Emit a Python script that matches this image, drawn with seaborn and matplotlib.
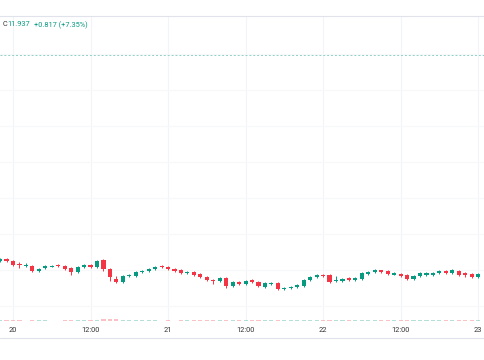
import pandas as pd
import numpy as np
import matplotlib
matplotlib.use("Agg")
import matplotlib.pyplot as plt
import matplotlib.dates as mdates
import seaborn as sns

# hourly candles, 19th 22:00 -> 23rd 00:00
start = "2024-03-19 22:00"
n_candles = 75

opens = [11.250, 11.257, 11.250, 11.240, 11.233, 11.233, 11.217, 11.227, 11.230, 11.237,
         11.233, 11.227, 11.213, 11.230, 11.237, 11.230, 11.253, 11.223, 11.190, 11.180,
         11.200, 11.200, 11.213, 11.217, 11.223, 11.233, 11.230, 11.223, 11.220, 11.210,
         11.213, 11.207, 11.197, 11.185, 11.183, 11.193, 11.167, 11.180, 11.173, 11.187,
         11.180, 11.163, 11.173, 11.177, 11.157, 11.160, 11.163, 11.167, 11.187, 11.197,
         11.203, 11.203, 11.182, 11.183, 11.193, 11.187, 11.190, 11.208, 11.213, 11.217,
         11.217, 11.205, 11.207, 11.203, 11.190, 11.200, 11.203, 11.203, 11.210, 11.217,
         11.210, 11.217, 11.208, 11.207, 11.197]
closes = [11.257, 11.250, 11.237, 11.237, 11.237, 11.217, 11.223, 11.233, 11.233, 11.233,
          11.223, 11.213, 11.230, 11.237, 11.230, 11.250, 11.223, 11.197, 11.180, 11.200,
          11.203, 11.213, 11.217, 11.223, 11.230, 11.230, 11.223, 11.217, 11.210, 11.213,
          11.203, 11.197, 11.187, 11.182, 11.193, 11.167, 11.180, 11.173, 11.183, 11.180,
          11.167, 11.177, 11.177, 11.157, 11.160, 11.163, 11.170, 11.187, 11.197, 11.203,
          11.200, 11.180, 11.183, 11.190, 11.187, 11.193, 11.210, 11.212, 11.220, 11.215,
          11.207, 11.208, 11.200, 11.190, 11.200, 11.210, 11.210, 11.210, 11.217, 11.210,
          11.220, 11.203, 11.205, 11.197, 11.207]
highs = [11.260, 11.260, 11.253, 11.247, 11.243, 11.237, 11.227, 11.237, 11.237, 11.240,
         11.237, 11.230, 11.233, 11.240, 11.240, 11.253, 11.257, 11.227, 11.200, 11.203,
         11.207, 11.217, 11.220, 11.227, 11.233, 11.237, 11.233, 11.227, 11.223, 11.217,
         11.217, 11.210, 11.200, 11.190, 11.197, 11.197, 11.183, 11.183, 11.187, 11.190,
         11.183, 11.180, 11.180, 11.180, 11.163, 11.167, 11.173, 11.190, 11.200, 11.207,
         11.207, 11.207, 11.200, 11.193, 11.197, 11.197, 11.213, 11.217, 11.223, 11.220,
         11.220, 11.213, 11.210, 11.207, 11.203, 11.213, 11.213, 11.213, 11.220, 11.220,
         11.223, 11.220, 11.213, 11.210, 11.210]
lows = [11.247, 11.247, 11.233, 11.227, 11.230, 11.213, 11.213, 11.223, 11.230, 11.230,
        11.220, 11.203, 11.210, 11.227, 11.227, 11.227, 11.217, 11.183, 11.177, 11.177,
        11.197, 11.197, 11.210, 11.213, 11.220, 11.227, 11.220, 11.213, 11.207, 11.207,
        11.200, 11.193, 11.183, 11.173, 11.180, 11.160, 11.163, 11.170, 11.170, 11.177,
        11.163, 11.160, 11.170, 11.153, 11.153, 11.157, 11.160, 11.163, 11.183, 11.193,
        11.197, 11.177, 11.180, 11.180, 11.183, 11.183, 11.187, 11.203, 11.210, 11.210,
        11.203, 11.203, 11.197, 11.187, 11.187, 11.197, 11.200, 11.200, 11.207, 11.207,
        11.207, 11.200, 11.197, 11.193, 11.193]
volumes = [1.2, 1.0, 1.4, 0.8, 0.7, 1.5, 1.0, 0.8, 0.6, 0.7,
           1.2, 1.6, 1.3, 1.0, 1.1, 1.8, 2.6, 3.0, 2.4, 1.6,
           1.0, 1.1, 0.9, 0.8, 0.9, 0.7, 0.9, 0.7, 1.0, 1.1,
           1.2, 1.0, 1.1, 0.9, 1.3, 1.4, 1.0, 0.9, 1.0, 1.2,
           0.8, 0.9, 1.3, 1.0, 0.8, 0.9, 1.2, 1.0, 0.9, 1.0,
           1.1, 1.2, 0.9, 0.8, 1.2, 0.8, 0.9, 0.8, 1.0, 0.9,
           1.1, 0.8, 1.0, 0.9, 1.0, 0.8, 0.9, 1.0, 1.1, 0.9,
           1.0, 1.1, 0.9, 1.0, 0.9]

last_price = 11.937
legend_close = "11.937"
legend_change = "+0.817 (+7.35%)"
tick_labels = ["20", "12:00", "21", "12:00", "22", "12:00", "23"]

UP = "#089981"
DOWN = "#F23645"

df = pd.DataFrame({
    "time": pd.date_range(start, periods=n_candles, freq="h"),
    "open": opens, "high": highs, "low": lows, "close": closes, "volume": volumes,
})
df["t"] = mdates.date2num(df["time"])
df["up"] = df["close"] >= df["open"]
df["color"] = np.where(df["up"], UP, DOWN)

sns.set_theme(style="white")
plt.rcParams["font.family"] = ["Roboto", "DejaVu Sans"]

fig = plt.figure(figsize=(4.85, 3.6), dpi=100)
ax = fig.add_axes([0, 39 / 360, 1, 305 / 360])

w = 0.64 / 24
# faint grid
tick_pos = mdates.date2num(pd.date_range("2024-03-20", periods=7, freq="12h"))
for t in tick_pos:
    ax.axvline(t, color="#f3f4f7", lw=0.8, zorder=0)
for yv in np.arange(11.10, 12.0, 0.12):
    ax.axhline(yv, color="#f7f8fa", lw=0.8, zorder=0)

# wicks and bodies
ax.vlines(df["t"], df["low"], df["high"], colors=df["color"], lw=0.7, zorder=2)
body = (df["close"] - df["open"]).abs().clip(lower=0.0035)
bottom = df[["open", "close"]].min(axis=1)
ax.bar(df["t"], body, bottom=bottom, width=w, color=df["color"], lw=0, zorder=3)

# last price line
ax.axhline(last_price, color="#8fd0c4", lw=0.7, ls=(0, (2, 2)), zorder=1)

ax.set_xlim(mdates.date2num(pd.Timestamp("2024-03-20")) - 2.01 / 24,
            mdates.date2num(pd.Timestamp("2024-03-20")) + 73.06 / 24)
ax.set_ylim(11.05, 12.067)
ax.set_yticks([])
ax.set_xticks(tick_pos)
ax.set_xticklabels(tick_labels, fontsize=5.3, color="#333333")
ax.tick_params(axis="x", length=0, pad=4.5)
for s in ["left", "right", "bottom"]:
    ax.spines[s].set_visible(False)
ax.spines["top"].set_color("#e0e3eb")
ax.spines["top"].set_linewidth(0.8)

# volume strip
vax = ax.twinx()
vax.bar(df["t"], df["volume"], width=w, color=df["color"], alpha=0.3, lw=0)
vax.set_ylim(0, 450)
vax.set_yticks([])
vax.set_xlim(ax.get_xlim())
for s in vax.spines.values():
    s.set_visible(False)

# legend text
fig.text(3 / 485, 1 - 25 / 360, "C", fontsize=5.3, color="#333333", va="center")
fig.text(7.5 / 485, 1 - 25 / 360, legend_close, fontsize=5.3, color=UP, va="center")
fig.text(34 / 485, 1 - 25 / 360, legend_change, fontsize=5.3, color=UP, va="center")

# bottom border of time scale
fig.add_artist(plt.Line2D([0, 1], [1 - 338 / 360, 1 - 338 / 360], color="#e0e3eb", lw=0.8))

fig.savefig("out.png", dpi=100, facecolor="white")
